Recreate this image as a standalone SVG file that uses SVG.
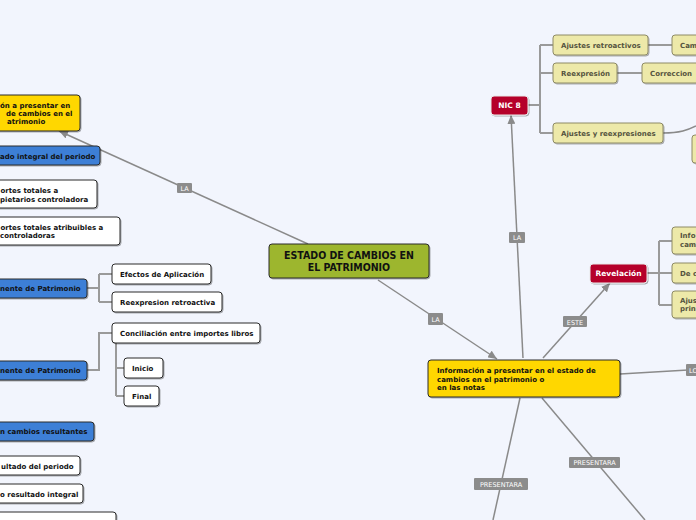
<svg xmlns="http://www.w3.org/2000/svg" width="696" height="520" viewBox="0 0 696 520">
<defs>
<filter id="sh" x="-10%" y="-20%" width="130%" height="160%"><feDropShadow dx="1" dy="1" stdDeviation="0.7" flood-color="#000" flood-opacity="0.3"/></filter>
<marker id="arr" markerUnits="userSpaceOnUse" markerWidth="10" markerHeight="8" refX="9" refY="4" orient="auto"><path d="M0,0 L9,4 L0,8 Z" fill="#8a8a8a"/></marker>
</defs>
<style>
text{font-family:"DejaVu Sans","Liberation Sans",sans-serif;font-weight:bold;font-size:7px;fill:#111}
.n rect{stroke:#2a2a2a;stroke-width:1;filter:url(#sh)}
.w rect{fill:#fff}
.b rect{fill:#3d7fd6}
.y rect{fill:#ffd700}
.k rect{fill:#ede9a9;stroke:#8d8a66}
.k text{fill:#55543f}
.r rect{fill:#b5002a;stroke:#e8e8e8}
.r text{fill:#fff;font-size:7.5px}
.c line,.c path{stroke:#8a8a8a;stroke-width:1.5;fill:none}
.t path{stroke:#9a9a9a;stroke-width:2;fill:none}
.lb rect{fill:#8c8c8c}
.lb text{fill:#fff;font-weight:normal;font-size:6.5px}
.ct{font-size:10.5px;font-family:"DejaVu Sans Condensed","DejaVu Sans",sans-serif}
</style>
<rect width="696" height="520" fill="#f2f5fd"/>
<g id="connectors">
<g class="c">
<line x1="308" y1="244" x2="59" y2="131" marker-end="url(#arr)"/>
<line x1="378" y1="280" x2="497" y2="359" marker-end="url(#arr)"/>
<line x1="523" y1="358" x2="511" y2="115" marker-end="url(#arr)"/>
<line x1="543" y1="358" x2="610" y2="283" marker-end="url(#arr)"/>
<line x1="620" y1="374" x2="688" y2="370"/>
<line x1="520" y1="398" x2="493" y2="520"/>
<line x1="542" y1="398" x2="645" y2="520"/>
<path d="M663,133 C680,133 688,130 696,126"/>
</g>
<g class="t">
<path d="M87,288 H99 M99,274 V302 M99,274 H112 M99,302 H112"/>
<path d="M87,370 H99 V333 H112"/>
<path d="M116,343 V396 M116,368 H124 M116,396 H124"/>
<path d="M528,105 H540 M540,45 V133 M540,45 H553 M540,73 H553 M540,133 H553"/>
<path d="M648,45 H672 M617,73 H642"/>
<path d="M647,273 H659 M659,241 V305 M659,241 H672 M659,273 H672 M659,305 H672"/>
</g>
<g class="lb">
<rect x="177" y="183" width="15" height="10" rx="1"/><text x="184.5" y="190.5" text-anchor="middle">LA</text>
<rect x="428" y="313" width="15" height="12" rx="1"/><text x="435.5" y="321.5" text-anchor="middle">LA</text>
<rect x="509" y="232" width="16" height="11" rx="1"/><text x="517" y="240" text-anchor="middle">LA</text>
<rect x="563" y="316" width="24" height="11" rx="1"/><text x="575" y="324.5" text-anchor="middle">ESTE</text>
<rect x="474" y="478" width="54" height="12" rx="1"/><text x="501" y="486.5" text-anchor="middle">PRESENTARA</text>
<rect x="569" y="457" width="51" height="11" rx="1"/><text x="594.5" y="465" text-anchor="middle">PRESENTARA</text>
<rect x="686" y="364" width="20" height="12" rx="1"/><text x="689" y="372.5">LO</text>
</g>
</g>
<g id="central" class="n"><rect x="269" y="244" width="160" height="34" rx="3" fill="#9db62d"/><text class="ct" x="349" y="259" text-anchor="middle">ESTADO DE CAMBIOS EN</text><text class="ct" x="349" y="271" text-anchor="middle">EL PATRIMONIO</text></g>
<g id="left-info" class="n y"><rect x="-10" y="95" width="90" height="36" rx="3"/><text x="0" y="107.5">ón a presentar en</text><text x="6" y="115.8">de cambios en el</text><text x="7" y="124">atrimonio</text></g>
<g id="resultado-integral" class="n b"><rect x="-10" y="146" width="110" height="19" rx="3"/><text x="0" y="159">ado integral del periodo</text></g>
<g id="importes-propietarios" class="n w"><rect x="-10" y="180" width="107" height="28" rx="3"/><text x="0.5" y="192.5">ortes totales a</text><text x="0" y="201.5">pietarios controladora</text></g>
<g id="importes-no-controladoras" class="n w"><rect x="-10" y="217" width="130" height="28" rx="3"/><text x="0.5" y="229.5">ortes totales atribuibles a</text><text x="0" y="238">controladoras</text></g>
<g id="componente1" class="n b"><rect x="-10" y="279" width="97" height="19" rx="3"/><text x="0" y="291">nente de Patrimonio</text></g>
<g id="efectos" class="n w"><rect x="112" y="264" width="99" height="20" rx="3"/><text x="120" y="276.7">Efectos de Aplicación</text></g>
<g id="reexpresion-retro" class="n w"><rect x="112" y="292" width="110" height="20" rx="3"/><text x="120" y="304.7">Reexpresion retroactiva</text></g>
<g id="componente2" class="n b"><rect x="-10" y="361" width="97" height="19" rx="3"/><text x="0" y="373">nente de Patrimonio</text></g>
<g id="conciliacion" class="n w"><rect x="112" y="323" width="148" height="20" rx="3"/><text x="120" y="335.7">Conciliación entre importes libros</text></g>
<g id="inicio" class="n w"><rect x="124" y="358" width="39" height="20" rx="3"/><text x="132" y="370.5">Inicio</text></g>
<g id="final" class="n w"><rect x="124" y="386" width="35" height="20" rx="3"/><text x="132" y="398.7">Final</text></g>
<g id="cambios-resultantes" class="n b"><rect x="-10" y="422" width="104" height="19" rx="3"/><text x="0" y="434">n cambios resultantes</text></g>
<g id="resultado-periodo" class="n w"><rect x="-10" y="456" width="90" height="19" rx="3"/><text x="1" y="468.5">ultado del periodo</text></g>
<g id="otro-resultado" class="n w"><rect x="-10" y="484" width="93" height="19" rx="3"/><text x="0" y="496.5">o resultado integral</text></g>
<g id="bottom-box" class="n w"><rect x="-10" y="512" width="126" height="20" rx="3"/></g>
<g id="informacion" class="n y"><rect x="428" y="360" width="192" height="37" rx="3"/><text x="437" y="373">Información a presentar en el estado de</text><text x="437" y="381.5">cambios en el patrimonio o</text><text x="437" y="390">en las notas</text></g>
<g id="nic8" class="n r"><rect x="491" y="96" width="37" height="19" rx="3"/><text x="509.5" y="107.5" text-anchor="middle">NIC 8</text></g>
<g id="ajustes-retro" class="n k"><rect x="553" y="35" width="95" height="20" rx="3"/><text x="561" y="47.7">Ajustes retroactivos</text></g>
<g id="cam" class="n k"><rect x="672" y="35" width="40" height="20" rx="3"/><text x="680" y="47.7">Cam</text></g>
<g id="reexpresion" class="n k"><rect x="553" y="63" width="64" height="20" rx="3"/><text x="561" y="75.7">Reexpresión</text></g>
<g id="correccion" class="n k"><rect x="642" y="63" width="70" height="20" rx="3"/><text x="650" y="75.7">Correccion</text></g>
<g id="ajustes-reexp" class="n k"><rect x="553" y="123" width="110" height="20" rx="3"/><text x="561" y="135.5">Ajustes y reexpresiones</text></g>
<g id="right-box" class="n k"><rect x="692" y="135" width="20" height="28" rx="3"/></g>
<g id="revelacion" class="n r"><rect x="590" y="264" width="57" height="19" rx="3"/><text x="618.5" y="275.5" text-anchor="middle">Revelación</text></g>
<g id="rev-info" class="n k"><rect x="672" y="227" width="40" height="27" rx="3"/><text x="680" y="238">Info</text><text x="680" y="246.7">cam</text></g>
<g id="rev-de" class="n k"><rect x="672" y="263" width="40" height="20" rx="3"/><text x="680" y="275.5">De c</text></g>
<g id="rev-ajus" class="n k"><rect x="672" y="291" width="40" height="27" rx="3"/><text x="680" y="302.7">Ajus</text><text x="680" y="310.7">prin</text></g>
</svg>
